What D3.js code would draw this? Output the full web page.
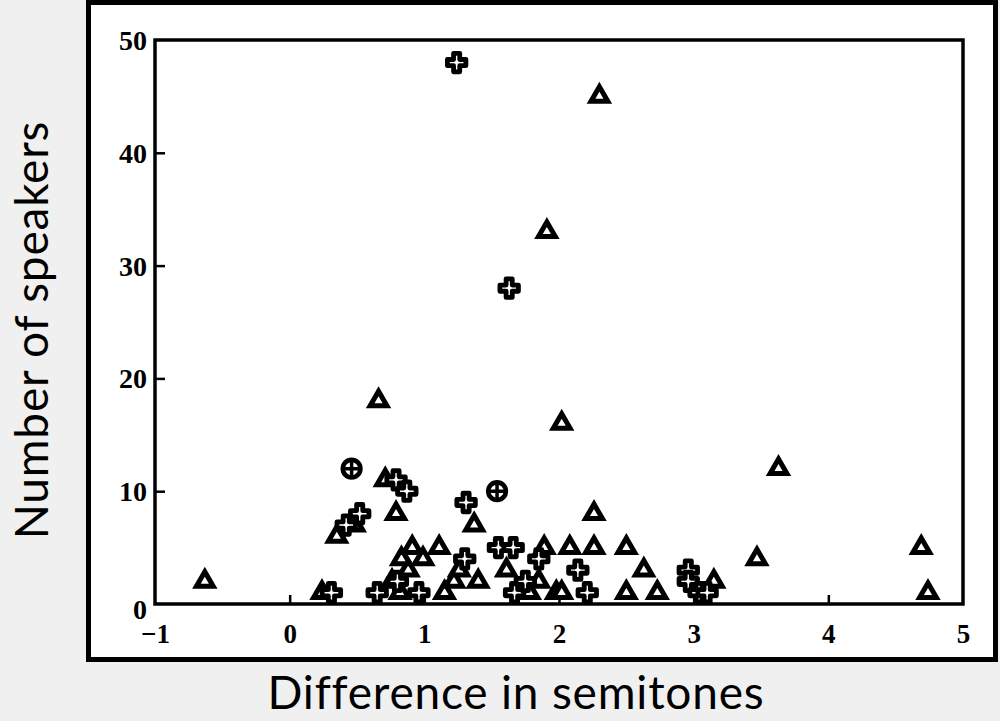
<!DOCTYPE html>
<html>
<head>
<meta charset="utf-8">
<script src="https://cdn.jsdelivr.net/npm/d3@7"></script>
<style>
  html, body { margin: 0; padding: 0; background: #f0f0f0; }
  svg { display: block; }
</style>
</head>
<body>
<svg id="chart" width="1000" height="721"></svg>
<script>
// Interval difference (semitones) vs. number of speakers, three speaker groups
const triangles = [
  [-0.63, 2], [2.30, 45], [1.91, 33], [0.66, 18], [2.02, 16], [3.63, 12],
  [0.71, 11], [0.79, 8], [0.35, 6], [0.48, 7], [1.37, 7], [2.26, 8],
  [0.24, 1], [0.82, 1], [0.88, 3], [0.83, 4], [0.91, 5], [0.99, 4],
  [1.11, 5], [1.15, 1], [1.22, 2], [1.26, 3], [0.76, 2], [1.40, 2],
  [1.61, 3], [1.85, 2], [1.78, 1], [1.89, 5], [2.08, 5], [2.26, 5],
  [1.98, 1], [2.02, 1], [2.50, 5], [2.63, 3], [2.50, 1], [2.73, 1],
  [3.15, 2], [3.47, 4], [4.69, 5], [4.74, 1]
];
const crosses = [
  [1.24, 48], [1.63, 28], [0.79, 11], [0.87, 10], [1.31, 9], [0.42, 7],
  [0.52, 8], [0.31, 1], [0.65, 1], [0.96, 1], [0.80, 2], [1.30, 4],
  [1.55, 5], [1.66, 5], [1.67, 1], [1.75, 2], [1.85, 4], [2.14, 3],
  [2.21, 1], [2.96, 3], [2.96, 2], [3.04, 1], [3.10, 1]
];
const circledPlus = [[0.46, 12], [1.54, 10]];

const xTicks = [-1, 0, 1, 2, 3, 4, 5];
const yTicks = [0, 10, 20, 30, 40, 50];
const xTitle = "Difference in semitones";
const yTitle = "Number of speakers";

const svg = d3.select("#chart");

// white panel with heavy frame
svg.append("rect")
  .attr("x", 88.5).attr("y", 2.5).attr("width", 907).attr("height", 657)
  .attr("fill", "#fff").attr("stroke", "#000").attr("stroke-width", 5);

const plot = { left: 155, right: 963, top: 40, bottom: 604 };
const x = d3.scaleLinear().domain([-1, 5]).range([plot.left, plot.right]);
const y = d3.scaleLinear().domain([0, 50]).range([plot.bottom, plot.top]);

const tickFont = "'Liberation Serif', 'Times New Roman', serif";

// bottom axis: inward ticks, no domain path (frame drawn separately)
const xAxis = svg.append("g")
  .attr("transform", `translate(0,${plot.bottom})`)
  .call(d3.axisBottom(x).tickValues(xTicks).tickSizeInner(-9).tickSizeOuter(0)
    .tickFormat(d => d < 0 ? "\u2212" + Math.abs(d) : d).tickPadding(20));
xAxis.select(".domain").remove();
xAxis.selectAll(".tick line").attr("stroke", "#000").attr("stroke-width", 2.5)
  .attr("display", d => (d === -1 || d === 5) ? "none" : null);
xAxis.selectAll(".tick text")
  .attr("font-family", tickFont).attr("font-weight", "bold")
  .attr("font-size", 27).attr("fill", "#000");

// left axis
const yAxis = svg.append("g")
  .attr("transform", `translate(${plot.left},0)`)
  .call(d3.axisLeft(y).tickValues(yTicks).tickSizeInner(-10).tickSizeOuter(0).tickPadding(8));
yAxis.select(".domain").remove();
yAxis.selectAll(".tick line").attr("stroke", "#000").attr("stroke-width", 2.5)
  .attr("display", d => (d === 0 || d === 50) ? "none" : null);
yAxis.selectAll(".tick text")
  .attr("font-family", tickFont).attr("font-weight", "bold")
  .attr("font-size", 28).attr("fill", "#000")
  .attr("dy", d => d === 0 ? "0.5em" : "0.34em");

// plot frame
svg.append("rect")
  .attr("x", plot.left).attr("y", plot.top)
  .attr("width", plot.right - plot.left).attr("height", plot.bottom - plot.top)
  .attr("fill", "none").attr("stroke", "#000").attr("stroke-width", 3.5);

const marks = svg.append("g");

// open triangles
marks.selectAll("path.tri").data(triangles).join("path")
  .attr("class", "tri")
  .attr("transform", d => `translate(${x(d[0])},${y(d[1])})`)
  .attr("d", d3.symbol(d3.symbolTriangle, 122))
  .attr("fill", "#fff").attr("stroke", "#000")
  .attr("stroke-width", 5).attr("stroke-linejoin", "miter");

// outlined crosses
marks.selectAll("path.cross").data(crosses).join("path")
  .attr("class", "cross")
  .attr("transform", d => `translate(${x(d[0])},${y(d[1])})`)
  .attr("d", d3.symbol(d3.symbolCross, 190))
  .attr("fill", "#fff").attr("stroke", "#000")
  .attr("stroke-width", 4.8).attr("stroke-linejoin", "round");

// circled plus
const cp = marks.selectAll("g.cplus").data(circledPlus).join("g")
  .attr("class", "cplus")
  .attr("transform", d => `translate(${x(d[0])},${y(d[1])})`);
cp.append("circle").attr("r", 8.8).attr("fill", "#fff")
  .attr("stroke", "#000").attr("stroke-width", 4.6);
cp.append("path").attr("d", "M-9,0H9M0,-9V9")
  .attr("stroke", "#000").attr("stroke-width", 3.5);

// axis titles
const titleFont = "Lato, 'Open Sans', sans-serif";
svg.append("text")
  .attr("x", 516).attr("y", 709)
  .attr("text-anchor", "middle")
  .attr("font-family", titleFont).attr("font-size", 46)
  .attr("letter-spacing", 0.8).attr("fill", "#000")
  .text(xTitle);
svg.append("text")
  .attr("transform", "translate(48,330) rotate(-90)")
  .attr("text-anchor", "middle")
  .attr("font-family", titleFont).attr("font-size", 46)
  .attr("letter-spacing", 0.8).attr("fill", "#000")
  .text(yTitle);
</script>
</body>
</html>
